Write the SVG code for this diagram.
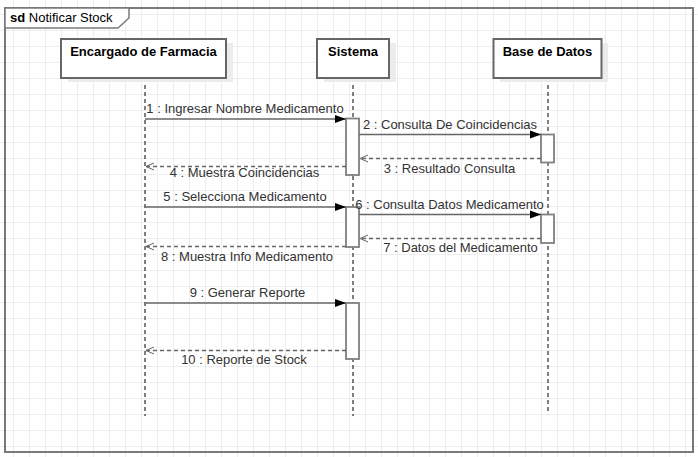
<svg xmlns="http://www.w3.org/2000/svg" width="698" height="457" viewBox="0 0 698 457">
<defs>
<pattern id="grid" x="13" y="14" width="16" height="16" patternUnits="userSpaceOnUse">
<path d="M0.5 0 V16 M0 0.5 H16" fill="none" stroke="#ededed" stroke-width="1"/>
</pattern>
<marker id="filled" markerWidth="12" markerHeight="10" refX="11" refY="4.5" orient="auto" markerUnits="userSpaceOnUse">
<path d="M0,0.5 L11,4.5 L0,8.5 Z" fill="#000"/>
</marker>
<marker id="open" markerWidth="12" markerHeight="10" refX="9" refY="4.5" orient="auto" markerUnits="userSpaceOnUse">
<path d="M1,1 L9,4.5 L1,8" fill="none" stroke="#666" stroke-width="1"/>
</marker>
</defs>
<style>
.frame{fill:none;stroke:#7a7a7a;stroke-width:2}
.title{fill:#fff;stroke:#7a7a7a;stroke-width:1.5}
.head{fill:#fff;stroke:#666;stroke-width:2}
.shadow{fill:#ececec;stroke:none}
.hlabel{font-family:"Liberation Sans",Arial,sans-serif;font-size:13px;font-weight:bold;fill:#000;text-anchor:middle}
.life{stroke:#000;stroke-width:1;stroke-dasharray:4 3;fill:none}
.act{fill:#fff;stroke:#808080;stroke-width:1.8}
.msg{stroke:#666;stroke-width:1.5;fill:none}
.ret{stroke:#666;stroke-width:1.5;fill:none;stroke-dasharray:4 3}
.mlabel{font-family:"Liberation Sans",Arial,sans-serif;font-size:13px;fill:#333;text-anchor:middle}
.ttl{font-family:"Liberation Sans",Arial,sans-serif;font-size:13px;fill:#000}
</style>
<rect x="0" y="0" width="698" height="457" fill="#fff"/>
<rect x="0" y="0" width="698" height="457" fill="url(#grid)"/>

<g id="frame">
<rect class="frame" x="5" y="8" width="688" height="444"/>
<path class="title" d="M5,8 H129 V18 L118,28 H5 Z"/>
<text class="ttl" x="10" y="22"><tspan font-weight="bold">sd</tspan> Notificar Stock</text>
</g>

<g id="encargado">
<line class="life" x1="145" y1="78" x2="145" y2="416"/>
<rect class="shadow" x="68" y="43" width="165" height="39"/>
<rect class="head" x="61" y="39" width="165" height="39"/>
<text class="hlabel" x="143.5" y="56">Encargado de Farmacia</text>
</g>

<g id="sistema">
<line class="life" x1="353" y1="78" x2="353" y2="416"/>
<rect class="shadow" x="324" y="43" width="72" height="39"/>
<rect class="head" x="317" y="39" width="72" height="39"/>
<text class="hlabel" x="353" y="56">Sistema</text>
<rect class="act" x="346" y="118.5" width="13" height="56.5"/>
<rect class="act" x="346" y="207" width="13" height="40"/>
<rect class="act" x="346" y="303" width="13" height="56"/>
</g>

<g id="basedatos">
<line class="life" x1="548" y1="78" x2="548" y2="411"/>
<rect class="shadow" x="500" y="43" width="108" height="39"/>
<rect class="head" x="493.5" y="39" width="108" height="39"/>
<text class="hlabel" x="547.5" y="56">Base de Datos</text>
<rect class="act" x="541" y="134.5" width="13" height="28"/>
<rect class="act" x="541" y="214.5" width="13" height="28.5"/>
</g>

<g id="connectors">
<line class="msg" x1="145" y1="119" x2="346" y2="119" marker-end="url(#filled)"/>
<text class="mlabel" x="245" y="113">1 : Ingresar Nombre Medicamento</text>

<line class="msg" x1="359" y1="134.5" x2="541" y2="134.5" marker-end="url(#filled)"/>
<text class="mlabel" x="450" y="128.5">2 : Consulta De Coincidencias</text>

<line class="ret" x1="541" y1="158.5" x2="360" y2="158.5" marker-end="url(#open)"/>
<text class="mlabel" x="449.5" y="173">3 : Resultado Consulta</text>

<line class="ret" x1="346" y1="166.5" x2="146" y2="166.5" marker-end="url(#open)"/>
<text class="mlabel" x="244.5" y="177">4 : Muestra Coincidencias</text>

<line class="msg" x1="145" y1="207" x2="346" y2="207" marker-end="url(#filled)"/>
<text class="mlabel" x="245" y="200.5">5 : Selecciona Medicamento</text>

<line class="msg" x1="359" y1="214.5" x2="541" y2="214.5" marker-end="url(#filled)"/>
<text class="mlabel" x="449.5" y="208.5">6 : Consulta Datos Medicamento</text>

<line class="ret" x1="541" y1="238.5" x2="360" y2="238.5" marker-end="url(#open)"/>
<text class="mlabel" x="460.5" y="252">7 : Datos del Medicamento</text>

<line class="ret" x1="346" y1="246.5" x2="146" y2="246.5" marker-end="url(#open)"/>
<text class="mlabel" x="247" y="260.5">8 : Muestra Info Medicamento</text>

<line class="msg" x1="145" y1="303" x2="346" y2="303" marker-end="url(#filled)"/>
<text class="mlabel" x="247.5" y="297">9 : Generar Reporte</text>

<line class="ret" x1="346" y1="350.5" x2="146" y2="350.5" marker-end="url(#open)"/>
<text class="mlabel" x="244" y="364">10 : Reporte de Stock</text>
</g>
</svg>
